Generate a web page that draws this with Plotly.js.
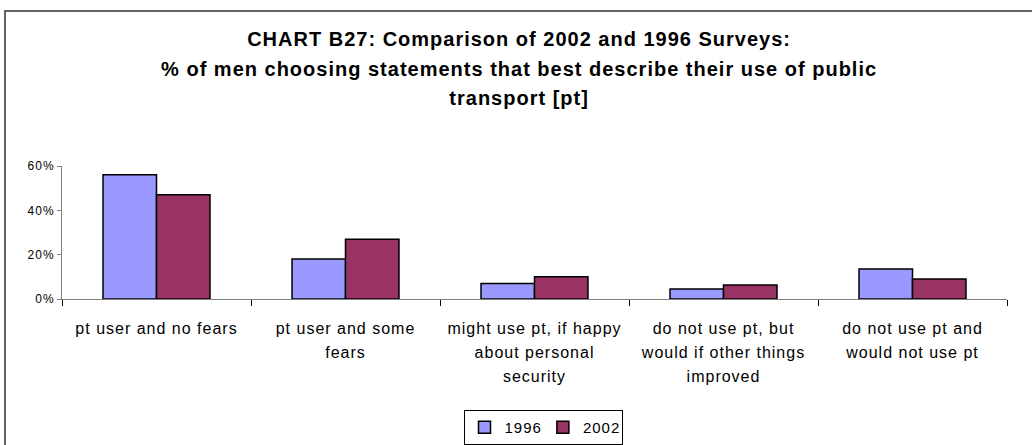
<!DOCTYPE html>
<html>
<head>
<meta charset="utf-8">
<script src="https://cdn.plot.ly/plotly-3.0.1.min.js"></script>
<style>
html, body { margin: 0; padding: 0; background: #fff; }
#chart { width: 1032px; height: 445px; }
#chart svg text { letter-spacing: 1px; }
</style>
</head>
<body>
<div id="chart"></div>
<script>
// ---- data ----
const categories = [
  "pt user and no fears",
  "pt user and some<br>fears",
  "might use pt, if happy<br>about personal<br>security",
  "do not use pt, but<br>would if other things<br>improved",
  "do not use pt and<br>would not use pt"
];
const values1996 = [56, 18, 7, 4.5, 13.5];
const values2002 = [47, 27, 10, 6.3, 9];
const seriesNames = ["1996", "2002"];
const yTickValues = [0, 20, 40, 60];
const titleLines = [
  "CHART B27: Comparison of 2002 and 1996 Surveys:",
  "% of men choosing statements that best describe their use of public",
  "transport [pt]"
];

// ---- helpers ----
const FONT = "'Liberation Sans', Arial, sans-serif";
function wrapLines(text, px) {
  return text.split("<br>").map(l => `<span style="font-size:${px}px">${l}</span>`).join("<br>");
}

const traces = [
  {
    type: "bar", name: seriesNames[0], x: categories, y: values1996,
    marker: { color: "#9999FF", line: { color: "#000000", width: 1.5 } },
    hoverinfo: "x+y"
  },
  {
    type: "bar", name: seriesNames[1], x: categories, y: values2002,
    marker: { color: "#993366", line: { color: "#000000", width: 1.5 } },
    hoverinfo: "x+y"
  }
];

// plot area: x 62..1007, y 166..299
const L = 62, R = 25, T = 166, B = 146;
const PW = 1032 - L - R, PH = 445 - T - B;
const px2x = p => (p - L) / PW;
const py2y = p => (445 - B - p) / PH;

const layout = {
  width: 1032, height: 445,
  margin: { l: L, r: R, t: T, b: B, pad: 0, autoexpand: false },
  paper_bgcolor: "#ffffff", plot_bgcolor: "#ffffff",
  font: { family: FONT, color: "#000000", size: 16 },
  title: {
    text: titleLines.map(l => `<span style="font-size:20px">${l}</span>`).join("<br>"),
    font: { family: FONT, size: 22.7, color: "#000000", weight: "bold" },
    x: 0.503, xref: "container", xanchor: "center",
    y: 1 - 46 / 445, yref: "container", yanchor: "top"
  },
  barmode: "group",
  bargap: 0.434,
  bargroupgap: 0,
  showlegend: true,
  legend: {
    orientation: "h",
    x: px2x(543), xanchor: "center",
    y: py2y(410), yanchor: "top",
    bordercolor: "#000000", borderwidth: 1,
    bgcolor: "#ffffff",
    font: { family: FONT, size: 15, color: "#000000" },
    itemwidth: 30,
    tracegroupgap: 0,
    traceorder: "normal"
  },
  xaxis: {
    type: "category",
    tickmode: "array",
    tickvals: categories,
    ticktext: categories.map(c => wrapLines(c, 16)),
    tickfont: { family: FONT, size: 18.5, color: "#000000" },
    ticklabelstandoff: 12,
    tickson: "boundaries",
    ticks: "outside", ticklen: 6, tickcolor: "#000000", tickwidth: 1,
    showline: true, linecolor: "#808080", linewidth: 1,
    showgrid: false, zeroline: false, automargin: false,
    fixedrange: true
  },
  yaxis: {
    range: [0, 60],
    tickmode: "array",
    tickvals: yTickValues,
    ticktext: yTickValues.map(v => v + "%"),
    tickfont: { family: FONT, size: 12, color: "#000000" },
    ticks: "outside", ticklen: 4, tickcolor: "#808080", tickwidth: 1,
    showline: true, linecolor: "#808080", linewidth: 1,
    showgrid: false, zeroline: false, automargin: false,
    fixedrange: true
  },
  shapes: [
    {
      type: "rect", xref: "paper", yref: "paper",
      x0: px2x(5), x1: px2x(1045), y0: py2y(460), y1: py2y(11),
      line: { color: "#333333", width: 1.5 },
      fillcolor: "rgba(0,0,0,0)", layer: "below"
    }
  ]
};

Plotly.newPlot("chart", traces, layout, { displayModeBar: false, staticPlot: true });
</script>
</body>
</html>
